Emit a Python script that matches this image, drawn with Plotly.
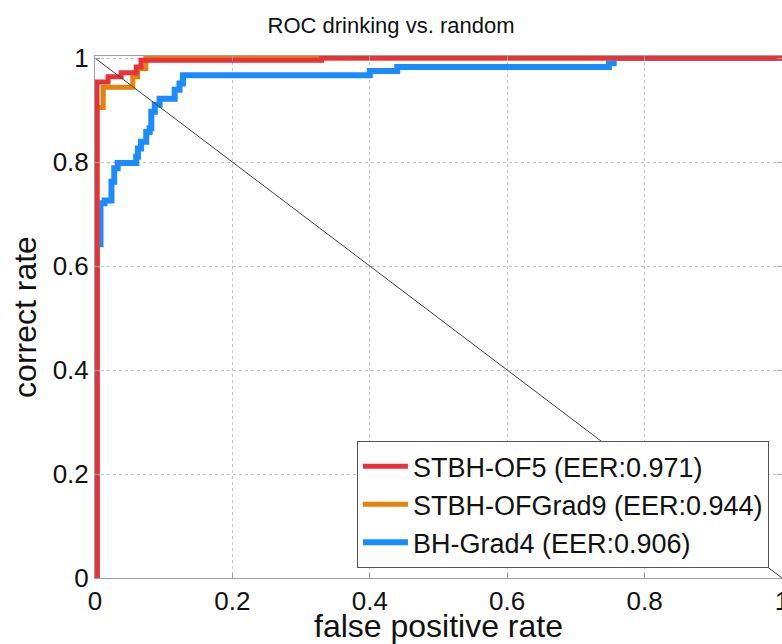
import plotly.graph_objects as go

# ROC curves (false positive rate, correct rate), step points
red_name = "STBH-OF5 (EER:0.971)"
red_fpr = [0.0, 0.003, 0.019, 0.038, 0.060, 0.067, 0.33, 1.0]
red_tpr = [0.0, 0.954, 0.964, 0.972, 0.983, 0.996, 1.0, 1.0]

orange_name = "STBH-OFGrad9 (EER:0.944)"
orange_fpr = [0.0, 0.003, 0.012, 0.055, 0.062, 0.074, 1.0]
orange_tpr = [0.0, 0.905, 0.944, 0.964, 0.980, 1.0, 1.0]

blue_name = "BH-Grad4 (EER:0.906)"
blue_fpr = [0.003, 0.003, 0.008, 0.014, 0.024, 0.028, 0.033, 0.060, 0.0625, 0.067,
            0.0746, 0.0795, 0.082, 0.087, 0.094, 0.116, 0.123, 0.128, 0.40, 0.44,
            0.748, 0.755, 1.0]
blue_tpr = [0.0, 0.642, 0.721, 0.726, 0.762, 0.788, 0.798, 0.810, 0.826, 0.839,
            0.858, 0.865, 0.897, 0.910, 0.922, 0.939, 0.951, 0.967, 0.975, 0.983,
            0.990, 1.0, 1.0]

diag_x = [0.0, 1.0]
diag_y = [1.0, 0.0]

tick_vals = [0, 0.2, 0.4, 0.6, 0.8, 1]
tick_text = ["0", "0.2", "0.4", "0.6", "0.8", "1"]

FONT = "Liberation Sans, Arial, sans-serif"

fig = go.Figure()
fig.add_trace(go.Scatter(x=blue_fpr, y=blue_tpr, mode="lines", name=blue_name,
                         line=dict(color="#1a8cff", width=6, shape="hv"), legendrank=3))
fig.add_trace(go.Scatter(x=orange_fpr, y=orange_tpr, mode="lines", name=orange_name,
                         line=dict(color="#e5820a", width=5, shape="hv"), legendrank=2))
fig.add_trace(go.Scatter(x=red_fpr, y=red_tpr, mode="lines", name=red_name,
                         line=dict(color="#e8323a", width=5, shape="hv"), legendrank=1))
fig.add_trace(go.Scatter(x=diag_x, y=diag_y, mode="lines", showlegend=False,
                         line=dict(color="#444444", width=1), hoverinfo="skip"))

axis_common = dict(
    tickvals=tick_vals, ticktext=tick_text,
    showgrid=True, gridcolor="#c4c4c4", griddash="dot", gridwidth=1,
    showline=True, linecolor="#a0a0a0", linewidth=1, mirror="ticks",
    ticks="inside", ticklen=5, tickcolor="#a0a0a0",
    zeroline=False, automargin=False, ticklabeloverflow="allow",
    tickfont=dict(family=FONT, size=26, color="#111111"),
)

fig.update_layout(
    width=782, height=644,
    margin=dict(l=95, r=0, t=56, b=66),
    paper_bgcolor="white", plot_bgcolor="white",
    font=dict(family=FONT, color="#111111"),
    title=dict(text="ROC drinking vs. random", x=0.5, xref="container", xanchor="center",
               y=1 - 25 / 644, yref="container", yanchor="middle",
               font=dict(family=FONT, size=22, color="#111111")),
    xaxis=dict(range=[0, 1], title=dict(text="false positive rate", standoff=0,
               font=dict(family=FONT, size=32, color="#111111")), **axis_common),
    yaxis=dict(range=[0, 1.004], title=dict(text="correct rate", standoff=6,
               font=dict(family=FONT, size=32, color="#111111")), **axis_common),
    legend=dict(x=0.981, xanchor="right", y=0.019, yanchor="bottom",
                bgcolor="white", bordercolor="#555555", borderwidth=1,
                font=dict(family=FONT, size=27, color="#111111"),
                itemwidth=45, traceorder="normal"),
    showlegend=True,
)

fig.write_html("out.html")
